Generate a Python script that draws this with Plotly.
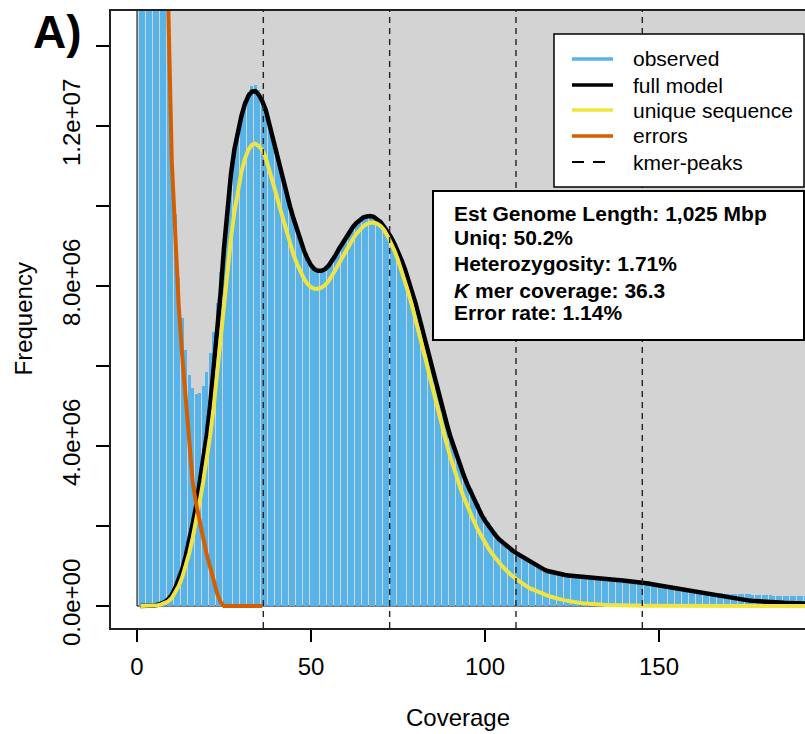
import plotly.graph_objects as go

# ---------------- data (values in millions of k-mers) ----------------
coverage = list(range(1, 193))

observed_m = [
    520, 180, 85, 52, 36, 27, 22, 18.2, 15.1, 11.4,
    9.8, 8.2, 7.2, 6.4, 5.78, 5.45, 5.3, 5.32, 5.5, 5.86,
    6.32, 6.86, 7.58, 8.35, 9.1, 9.95, 10.75, 11.4, 11.9, 12.3,
    12.62, 12.85, 13.0, 13.03, 12.9, 12.7, 12.45, 12.08, 11.68, 11.3,
    10.95, 10.62, 10.28, 9.95, 9.65, 9.36, 9.1, 8.86, 8.66, 8.5,
    8.4, 8.36, 8.37, 8.43, 8.52, 8.64, 8.78, 8.93, 9.08, 9.22,
    9.36, 9.48, 9.58, 9.66, 9.72, 9.76, 9.77, 9.75, 9.69, 9.6,
    9.48, 9.35, 9.2, 9.03, 8.85, 8.63, 8.4, 8.14, 7.86, 7.56,
    7.24, 6.9, 6.56, 6.22, 5.88, 5.54, 5.22, 4.92, 4.62, 4.32,
    4.05, 3.8, 3.56, 3.33, 3.12, 2.92, 2.73, 2.55, 2.38, 2.23,
    2.09, 1.96, 1.84, 1.73, 1.63, 1.54, 1.46, 1.39, 1.32, 1.26,
    1.2, 1.14, 1.09, 1.04, 0.99, 0.95, 0.91, 0.87, 0.84, 0.82,
    0.8, 0.78, 0.77, 0.75, 0.74, 0.73, 0.72, 0.71, 0.7, 0.69,
    0.68, 0.67, 0.66, 0.65, 0.64, 0.63, 0.62, 0.61, 0.6, 0.59,
    0.59, 0.58, 0.57, 0.57, 0.56, 0.55, 0.54, 0.52, 0.51, 0.5,
    0.48, 0.47, 0.46, 0.45, 0.43, 0.42, 0.41, 0.4, 0.38, 0.37,
    0.36, 0.35, 0.34, 0.34, 0.33, 0.33, 0.32, 0.32, 0.31, 0.31,
    0.3, 0.3, 0.3, 0.29, 0.29, 0.29, 0.28, 0.28, 0.28, 0.27,
    0.27, 0.27, 0.26, 0.26, 0.26, 0.25, 0.25, 0.25, 0.25, 0.24,
    0.24, 0.24,
]

full_model_m = [
    0, 0, 0, 0.005, 0.01, 0.03, 0.06, 0.1, 0.17, 0.28,
    0.45, 0.65, 0.92, 1.25, 1.6, 2.05, 2.5, 3.05, 3.6, 4.25,
    5.0, 5.9, 6.8, 7.8, 8.95, 10.0, 10.8, 11.42, 11.88, 12.25,
    12.55, 12.75, 12.86, 12.87, 12.78, 12.62, 12.4, 12.05, 11.65, 11.3,
    10.95, 10.65, 10.3, 9.98, 9.68, 9.38, 9.12, 8.88, 8.68, 8.52,
    8.42, 8.38, 8.38, 8.42, 8.5, 8.62, 8.76, 8.92, 9.07, 9.22,
    9.35, 9.47, 9.57, 9.65, 9.71, 9.74, 9.75, 9.73, 9.68, 9.6,
    9.48, 9.36, 9.22, 9.05, 8.87, 8.65, 8.42, 8.16, 7.88, 7.58,
    7.25, 6.9, 6.55, 6.2, 5.85, 5.5, 5.18, 4.87, 4.56, 4.25,
    3.98, 3.72, 3.48, 3.24, 3.02, 2.82, 2.63, 2.45, 2.28, 2.13,
    2.0, 1.88, 1.77, 1.67, 1.59, 1.51, 1.44, 1.38, 1.32, 1.27,
    1.21, 1.15, 1.09, 1.04, 0.99, 0.95, 0.91, 0.875, 0.85, 0.825,
    0.805, 0.79, 0.775, 0.765, 0.755, 0.745, 0.735, 0.725, 0.715, 0.705,
    0.697, 0.69, 0.684, 0.678, 0.672, 0.665, 0.658, 0.651, 0.644, 0.637,
    0.63, 0.62, 0.61, 0.6, 0.59, 0.575, 0.56, 0.545, 0.53, 0.51,
    0.495, 0.48, 0.46, 0.445, 0.43, 0.41, 0.395, 0.38, 0.365, 0.35,
    0.335, 0.32, 0.305, 0.29, 0.275, 0.26, 0.245, 0.23, 0.215, 0.2,
    0.19, 0.175, 0.165, 0.155, 0.145, 0.135, 0.128, 0.12, 0.113, 0.107,
    0.101, 0.096, 0.091, 0.087, 0.083, 0.08, 0.077, 0.074, 0.071, 0.069,
    0.067, 0.065,
]

unique_seq_m = [
    0, 0, 0, 0, 0.005, 0.02, 0.04, 0.07, 0.12, 0.2,
    0.33, 0.5, 0.72, 1.0, 1.32, 1.7, 2.12, 2.6, 3.1, 3.65,
    4.25, 4.95, 5.8, 6.7, 7.6, 8.45, 9.2, 9.85, 10.4, 10.85,
    11.18, 11.4, 11.53, 11.56, 11.5, 11.4, 11.2, 10.92, 10.62, 10.3,
    9.97, 9.65, 9.35, 9.05, 8.78, 8.55, 8.35, 8.18, 8.05, 7.97,
    7.93, 7.93, 7.96, 8.02, 8.12, 8.25, 8.4, 8.56, 8.72, 8.88,
    9.03, 9.17, 9.3, 9.4, 9.49, 9.55, 9.58, 9.58, 9.56, 9.5,
    9.4, 9.25, 9.08, 8.88, 8.65, 8.4, 8.12, 7.83, 7.52, 7.2,
    6.85, 6.5, 6.15, 5.78, 5.42, 5.06, 4.72, 4.38, 4.05, 3.74,
    3.45, 3.18, 2.93, 2.7, 2.48, 2.27, 2.08, 1.9, 1.73, 1.58,
    1.44, 1.31, 1.19, 1.09, 0.99, 0.9, 0.81, 0.74, 0.67, 0.6,
    0.54, 0.49, 0.44, 0.4, 0.36, 0.32, 0.29, 0.26, 0.23, 0.2,
    0.18, 0.16, 0.14, 0.12, 0.105, 0.09, 0.08, 0.07, 0.06, 0.052,
    0.045, 0.04, 0.035, 0.03, 0.026, 0.022, 0.019, 0.016, 0.014, 0.012,
    0.01, 0.009, 0.008, 0.007, 0.006, 0.005, 0.004, 0.004, 0.003, 0.003,
    0.002, 0.002, 0.002, 0.002, 0.002, 0.002, 0.002, 0.002, 0.002, 0.002,
    0.001, 0.001, 0.001, 0.001, 0.001, 0.001, 0.001, 0.001, 0.001, 0.001,
    0, 0, 0, 0, 0, 0, 0, 0, 0, 0,
    0, 0, 0, 0, 0, 0, 0, 0, 0, 0,
    0, 0,
]

error_cov = list(range(1, 37))
errors_m = [
    515, 180, 85, 52, 36, 27, 22, 18.1, 14.95, 11.1,
    9.3, 7.5, 6.25, 5.2, 4.1, 3.1, 2.55, 2.1, 1.68, 1.3,
    0.98, 0.62, 0.32, 0.1, 0, 0, 0, 0, 0, 0,
    0, 0, 0, 0, 0, 0,
]

kmer_coverage = 36.3
peak_multiples = [1, 2, 3, 4]

x_ticks = [0, 50, 100, 150]
y_ticks = [0, 2e6, 4e6, 6e6, 8e6, 1.0e7, 1.2e7, 1.4e7]
y_tick_text = ["0.0e+00", "", "4.0e+06", "", "8.0e+06", "", "1.2e+07", ""]

x_title = "Coverage"
y_title = "Frequency"
legend_labels = ["observed", "full model", "unique sequence", "errors", "kmer-peaks"]
info_lines = [
    "<b>Est Genome Length: 1,025 Mbp</b>",
    "<b>Uniq: 50.2%</b>",
    "<b>Heterozygosity: 1.71%</b>",
    "<b><i>K</i> mer coverage: 36.3</b>",
    "<b>Error rate: 1.14%</b>",
]

# ---------------- styles ----------------
C_HIST = "#56B4E9"
C_FULL = "black"
C_UNIQ = "#F0E442"
C_ERR = "#D55E00"
C_BG = "#D3D3D3"
FONT = "Liberation Sans, Arial, Helvetica, sans-serif"

W, H = 805, 734
ML, MR, MT, MB = 111, 0, 11, 106
PW, PH = W - ML - MR, H - MT - MB


def px_x(p):
    return (p - ML) / PW


def px_y(p):
    return (H - MB - p) / PH


M = 1e6
observed = [v * M for v in observed_m]
full_model = [v * M for v in full_model_m]
unique_seq = [v * M for v in unique_seq_m]
errors = [v * M for v in errors_m]

fig = go.Figure()
fig.add_trace(go.Bar(x=coverage, y=observed, width=0.86, marker=dict(color=C_HIST, line=dict(width=0)),
                     name="observed", showlegend=False))
fig.add_trace(go.Scatter(x=coverage, y=full_model, mode="lines", line=dict(color=C_FULL, width=4.5),
                         name="full model", showlegend=False))
fig.add_trace(go.Scatter(x=coverage, y=unique_seq, mode="lines", line=dict(color=C_UNIQ, width=4),
                         name="unique sequence", showlegend=False))
fig.add_trace(go.Scatter(x=error_cov, y=errors, mode="lines", line=dict(color=C_ERR, width=4),
                         name="errors", showlegend=False))

shapes = []
# grey background rectangle from (0,0)
shapes.append(dict(type="rect", xref="x", yref="y", x0=0, x1=max(coverage) * 1.1, y0=0,
                   y1=max(full_model) * 2, fillcolor=C_BG, line=dict(color="black", width=1), layer="below"))
# kmer peak lines
for k in peak_multiples:
    xv = kmer_coverage * k
    shapes.append(dict(type="line", xref="x", yref="paper", x0=xv, x1=xv, y0=0, y1=1,
                       line=dict(color="#222222", width=1.4, dash="6px,5px"), layer="above"))

# legend box
shapes.append(dict(type="rect", xref="paper", yref="paper", x0=px_x(554), x1=px_x(804), y0=px_y(187),
                   y1=px_y(34), fillcolor="white", line=dict(color="black", width=1.5), layer="above"))
leg_rows = [59, 85, 110, 136, 162]
leg_colors = [C_HIST, C_FULL, C_UNIQ, C_ERR, "black"]
annotations = []
for i, (lab, col, ry) in enumerate(zip(legend_labels, leg_colors, leg_rows)):
    if lab == "kmer-peaks":
        shapes.append(dict(type="line", xref="paper", yref="paper", x0=px_x(572), x1=px_x(605),
                           y0=px_y(ry), y1=px_y(ry), line=dict(color=col, width=2, dash="12px,9px"),
                           layer="above"))
    else:
        shapes.append(dict(type="line", xref="paper", yref="paper", x0=px_x(572), x1=px_x(613),
                           y0=px_y(ry), y1=px_y(ry), line=dict(color=col, width=3.5), layer="above"))
    annotations.append(dict(text=lab, xref="paper", yref="paper", x=px_x(631), y=px_y(ry),
                            xanchor="left", yanchor="middle", showarrow=False,
                            font=dict(family=FONT, size=21, color="black")))

# info box
shapes.append(dict(type="rect", xref="paper", yref="paper", x0=px_x(433), x1=px_x(804), y0=px_y(340),
                   y1=px_y(191), fillcolor="white", line=dict(color="black", width=2), layer="above"))
info_rows = [213, 237.5, 263, 290.5, 312.5]
for t, ry in zip(info_lines, info_rows):
    annotations.append(dict(text=t, xref="paper", yref="paper", x=px_x(452), y=px_y(ry),
                            xanchor="left", yanchor="middle", showarrow=False,
                            font=dict(family=FONT, size=21, color="black")))

# axis titles
annotations.append(dict(text=x_title, xref="paper", yref="paper", x=0.5, y=px_y(717),
                        xanchor="center", yanchor="middle", showarrow=False,
                        font=dict(family=FONT, size=24, color="black")))
annotations.append(dict(text=y_title, xref="paper", yref="paper", x=px_x(23), y=0.5, textangle=-90,
                        xanchor="center", yanchor="middle", showarrow=False,
                        font=dict(family=FONT, size=24, color="black")))

# panel label
annotations.append(dict(text="<b>A)</b>", xref="paper", yref="paper", x=px_x(31), y=px_y(32),
                        xanchor="left", yanchor="middle", showarrow=False,
                        font=dict(family=FONT, size=46, color="black")))

fig.update_layout(
    width=W, height=H,
    margin=dict(l=ML, r=MR, t=MT, b=MB, pad=0),
    paper_bgcolor="white", plot_bgcolor="white",
    bargap=0, showlegend=False,
    shapes=shapes, annotations=annotations,
    font=dict(family=FONT, size=24, color="black"),
    xaxis=dict(range=[-7.47, 191.95], tickvals=x_ticks, ticktext=[str(v) for v in x_ticks],
               ticks="outside", ticklen=12, tickwidth=1.5, tickcolor="black",
               showline=True, linecolor="#222222", linewidth=1.5, mirror=True,
               showgrid=False, zeroline=False,
               tickfont=dict(family=FONT, size=24), ticklabelstandoff=4),
    yaxis=dict(range=[-0.55e6, 14.875e6], tickvals=y_ticks, ticktext=y_tick_text, tickangle=-90,
               ticks="outside", ticklen=13, tickwidth=1.5, tickcolor="black",
               showline=True, linecolor="#222222", linewidth=1.5, mirror=False,
               showgrid=False, zeroline=False,
               tickfont=dict(family=FONT, size=24), ticklabelstandoff=7),
)

fig.write_html("out.html")
